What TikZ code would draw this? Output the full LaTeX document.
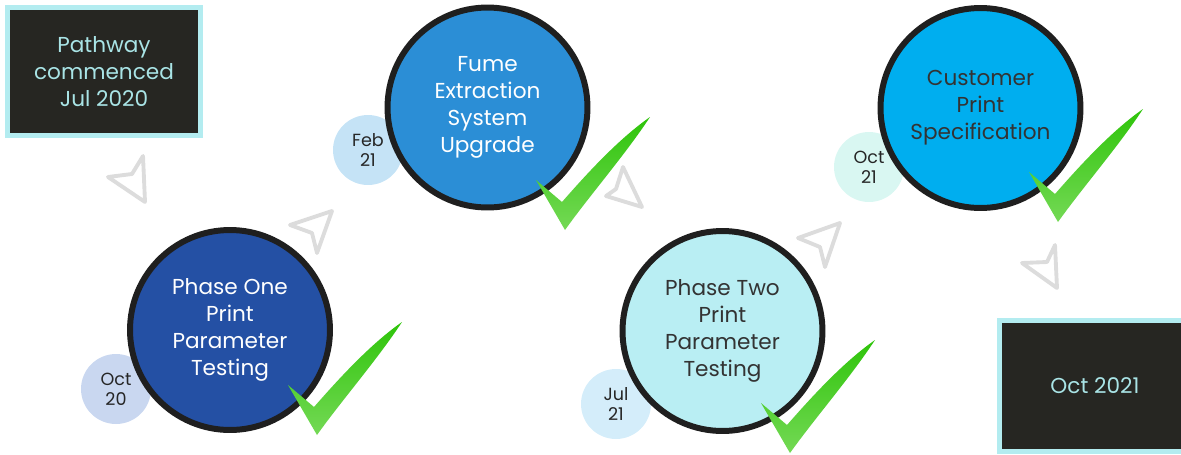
\documentclass[tikz,border=0pt]{standalone}
\usepackage{fontspec}
\setmainfont{Poppins}
\definecolor{kastengrund}{HTML}{262622}
\definecolor{kastenrand}{HTML}{B3ECF0}
\definecolor{kastentext}{HTML}{A9E4E6}
\definecolor{kreisrand}{HTML}{1F1F1F}
\definecolor{blauA}{HTML}{2450A4}
\definecolor{blauB}{HTML}{2B8ED6}
\definecolor{blauC}{HTML}{B9EEF3}
\definecolor{blauD}{HTML}{00AEEF}
\definecolor{hellA}{HTML}{C9D7F0}
\definecolor{hellB}{HTML}{C5E3F6}
\definecolor{hellC}{HTML}{D4EDFA}
\definecolor{hellD}{HTML}{D9F7F2}
\definecolor{pfeilgrau}{HTML}{DCDCDC}
\definecolor{gruenA}{HTML}{2EC40A}
\definecolor{gruenB}{HTML}{74D955}
\begin{document}
\begin{tikzpicture}[
    x=0.02cm, y=-0.02cm,
    kasten/.style = {draw=kastenrand, line width=2.8pt, fill=kastengrund, text=kastentext,
                     minimum height=2.56cm, align=center, font=\fontsize{12.3}{15.4}\selectfont},
    kreis/.style  = {draw=kreisrand, line width=3.4pt, circle, minimum size=4cm, inner sep=0pt,
                     align=center, font=\fontsize{12.3}{15.4}\selectfont},
    datum/.style  = {circle, minimum size=1.4cm, inner sep=0pt, align=center, text=black!85,
                     font=\fontsize{10}{11.2}\selectfont},
    pfeil/.style  = {draw=pfeilgrau, line width=2.2pt, line join=round},
    haken/.pic    = {\shade[top color=gruenA, bottom color=gruenB]
                       (-29,-50) -- (-3,-28) .. controls (25,-60) and (55,-92) .. (85,-113)
                       .. controls (60,-75) and (25,-35) .. (0,0) -- cycle;},
  ]
	\useasboundingbox (0,0) rectangle (1181,454);
	
	% Anfang und Ende
	\node[kasten, minimum width=3.86cm] (start) at (104,71.5) {Pathway\\commenced\\Jul 2020};
	\node[kasten, minimum width=3.82cm, minimum height=2.62cm] (ende) at (1095,386) {Oct 2021};
	
	% Datumskreise
	\node[datum, fill=hellA] (dA) at (116,389) {Oct\\20};
	\node[datum, fill=hellB] (dB) at (368,150) {Feb\\21};
	\node[datum, fill=hellC] (dC) at (616,404) {Jul\\21};
	\node[datum, fill=hellD] (dD) at (869,167) {Oct\\21};
	
	% Meilensteine
	\node[kreis, fill=blauA, text=white] (phaseeins) at (230,330) {Phase One\\Print\\Parameter\\Testing};
	\node[kreis, fill=blauB, text=white] (absaugung) at (487.5,107.5) {Fume\\Extraction\\System\\Upgrade};
	\node[kreis, fill=blauC, text=black!80] (phasezwei) at (722.5,331) {Phase Two\\Print\\Parameter\\Testing};
	\node[kreis, fill=blauD, text=black!80] (kunde) at (980.5,108) {Customer\\Print\\Specification};
	
	% Haken
	\pic at (317,435) {haken};
	\pic at (565,230) {haken};
	\pic at (790,453) {haken};
	\pic at (1058,222) {haken};
	
	% Pfeile
	\draw[pfeil] (108,177) -- (132,174) -- (143,156) -- (145,202) -- cycle;
	\draw[pfeil] (290,225) -- (332,211) -- (317,253) -- (312,233) -- cycle;
	\draw[pfeil] (606,196) -- (616,189) -- (623,167) -- (642,207) -- cycle;
	\draw[pfeil] (798,238) -- (840,223) -- (825,267) -- (820,247) -- cycle;
	\draw[pfeil] (1022,263) -- (1047,262) -- (1055,245) -- (1057,288) -- cycle;
\end{tikzpicture}
\end{document}
